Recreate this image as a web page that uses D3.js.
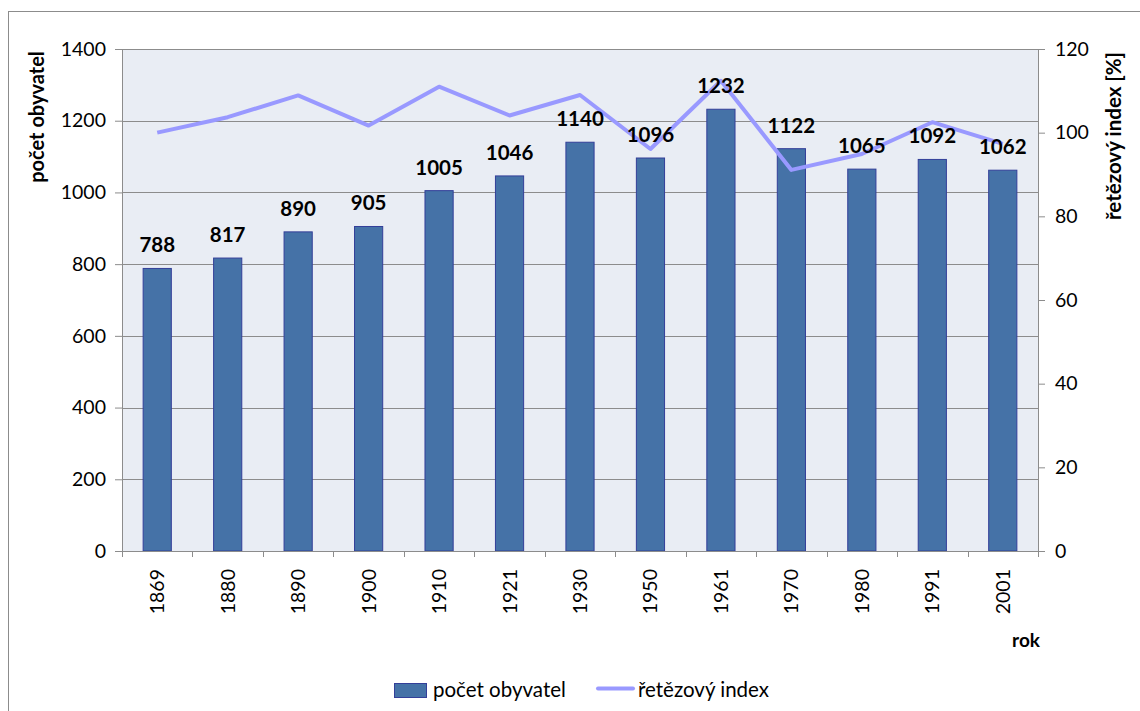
<!DOCTYPE html>
<html><head><meta charset="utf-8">
<script src="https://cdn.jsdelivr.net/npm/d3@7"></script>
<style>body{margin:0;background:#fff;font-family:Lato,"Open Sans",sans-serif;}</style>
</head><body><svg id="c" width="1140" height="711"></svg>
<script>
const years = ["1869","1880","1890","1900","1910","1921","1930","1950","1961","1970","1980","1991","2001"];
const population = [788,817,890,905,1005,1046,1140,1096,1232,1122,1065,1092,1062];
const chainIndex = [100,103.7,108.9,101.7,111.0,104.1,109.0,96.1,112.4,91.1,94.9,102.5,97.3];
const leftTicks = [0,200,400,600,800,1000,1200,1400];
const rightTicks = [0,20,40,60,80,100,120];

const svg = d3.select("#c");
const F = "Lato, 'Open Sans', sans-serif";
const m = {l:122, r:1038, t:49, b:551};

svg.append("rect").attr("x",8.5).attr("y",11.5).attr("width",1140).attr("height",720)
  .attr("fill","#fff").attr("stroke","#8c8c8c").attr("stroke-width",1);

const x = d3.scaleBand().domain(years).range([m.l,m.r]);
const yL = d3.scaleLinear().domain([0,1400]).range([m.b,m.t]);
const yR = d3.scaleLinear().domain([0,120]).range([m.b,m.t]);

svg.append("rect").attr("x",m.l).attr("y",m.t).attr("width",m.r-m.l).attr("height",m.b-m.t).attr("fill","#e9edf4");

// gridlines
svg.append("g").selectAll("line").data(leftTicks.slice(1)).join("line")
  .attr("x1",m.l).attr("x2",m.r).attr("y1",d=>Math.round(yL(d))+0.5).attr("y2",d=>Math.round(yL(d))+0.5)
  .attr("stroke","#8c8c8c").attr("stroke-width",1);

// bars
const bw = x.bandwidth()*0.4;
svg.append("g").selectAll("rect").data(population).join("rect")
  .attr("x",(d,i)=>x(years[i])+x.bandwidth()/2-bw/2)
  .attr("y",d=>yL(d)).attr("width",bw).attr("height",d=>m.b-yL(d))
  .attr("fill","#4572a7").attr("stroke","#333f99").attr("stroke-width",1);

// axes
const gL = svg.append("g").attr("transform",`translate(${m.l},0)`)
  .call(d3.axisLeft(yL).tickValues(leftTicks).tickSize(7).tickPadding(9).tickFormat(d3.format("d")));
const gR = svg.append("g").attr("transform",`translate(${m.r},0)`)
  .call(d3.axisRight(yR).tickValues(rightTicks).tickSize(7).tickPadding(10).tickFormat(d3.format("d")));
const gX = svg.append("g").attr("transform",`translate(0,${m.b})`)
  .call(d3.axisBottom(x).tickSize(0).tickFormat(""));
[gL,gR,gX].forEach(g=>{
  g.selectAll("path,line").attr("stroke","#8c8c8c");
  g.selectAll("text").attr("font-family",F).attr("font-size",19.5).attr("fill","#000");
});
gX.select("path").attr("d",`M${m.l},0.5H${m.r}`);
// category tick marks at band boundaries
const bounds = years.map(d=>x(d)).concat([m.r]);
gX.append("g").selectAll("line").data(bounds).join("line")
  .attr("x1",d=>Math.round(d)+0.5).attr("x2",d=>Math.round(d)+0.5).attr("y1",0).attr("y2",6)
  .attr("stroke","#8c8c8c");
// year labels rotated
svg.append("g").selectAll("text").data(years).join("text")
  .attr("transform",d=>`translate(${x(d)+x.bandwidth()/2+7},569) rotate(-90)`)
  .attr("text-anchor","end").attr("font-family",F).attr("font-size",19.5).text(d=>d);

// line
const line = d3.line().x((d,i)=>x(years[i])+x.bandwidth()/2).y(d=>yR(d));
svg.append("path").datum(chainIndex).attr("d",line).attr("fill","none")
  .attr("stroke","#9999ff").attr("stroke-width",4).attr("stroke-linejoin","round");

// data labels
svg.append("g").selectAll("text").data(population).join("text")
  .attr("x",(d,i)=>x(years[i])+x.bandwidth()/2).attr("y",d=>yL(d)-16)
  .attr("text-anchor","middle").attr("font-family",F).attr("font-weight","bold").attr("font-size",20.5)
  .text(d=>d);

// axis titles
svg.append("text").attr("transform","translate(44,117) rotate(-90)").attr("text-anchor","middle")
  .attr("font-family",F).attr("font-weight","bold").attr("font-size",20).text("počet obyvatel");
svg.append("text").attr("transform","translate(1121,136) rotate(-90)").attr("text-anchor","middle")
  .attr("font-family",F).attr("font-weight","bold").attr("font-size",20.5).text("řetězový index [%]");
svg.append("text").attr("x",1040).attr("y",647).attr("text-anchor","end")
  .attr("font-family",F).attr("font-weight","bold").attr("font-size",19).text("rok");

// legend
const lg = svg.append("g");
lg.append("rect").attr("x",394.5).attr("y",683.5).attr("width",32).attr("height",14)
  .attr("fill","#4572a7").attr("stroke","#333f99");
lg.append("text").attr("x",433).attr("y",697).attr("font-family",F).attr("font-size",20.5).text("počet obyvatel");
lg.append("line").attr("x1",598).attr("x2",633).attr("y1",688.5).attr("y2",688.5)
  .attr("stroke","#9999ff").attr("stroke-width",4).attr("stroke-linecap","round");
lg.append("text").attr("x",638).attr("y",697).attr("font-family",F).attr("font-size",20.5).text("řetězový index");
</script></body></html>
